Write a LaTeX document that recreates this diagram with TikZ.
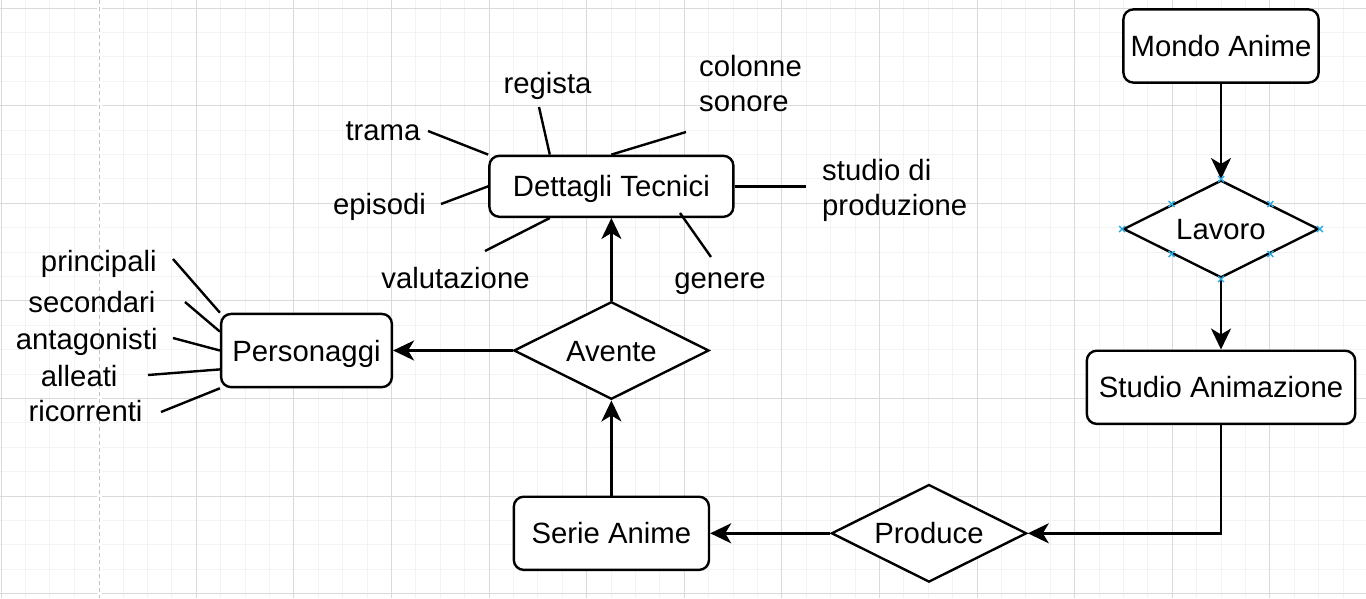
\documentclass[tikz,border=0pt]{standalone}
\usepackage{fontspec}
\setmainfont{Liberation Sans}
\usetikzlibrary{shapes.geometric,arrows.meta,calc}
\definecolor{gridminor}{RGB}{243,243,243}
\definecolor{gridmajor}{RGB}{218,218,218}
\definecolor{pagebreak}{RGB}{195,195,195}
\definecolor{hoverblue}{RGB}{41,171,226}
\begin{document}
\begin{tikzpicture}[x=1pt,y=-1pt,
  every node/.style={font=\fontsize{29.3}{35.2}\selectfont, inner sep=0pt},
  ent/.style={draw=black, line width=2.4pt, fill=white, rounded corners=10pt,
    text height=21pt, text depth=0pt, minimum width=#1, minimum height=73.2pt},
  rel/.style={diamond, aspect=2, draw=black, line width=2.4pt, fill=white,
    minimum width=195.2pt, minimum height=97.6pt, text height=21pt, text depth=0pt},
  conn/.style={line width=2.4pt, -{Stealth[length=21pt,width=20pt,inset=6pt]}},
  attrline/.style={line width=2.4pt},
  lab/.style={anchor=base},
  mlab/.style={anchor=north west, align=left},
  hv/.style={hoverblue, line width=1.4pt}
]
\useasboundingbox (0,0) rectangle (1366,598);
\fill[white] (0,0) rectangle (1366,598);
% grid
\foreach \i in {0,...,55} {\draw[gridminor, line width=1pt] ({1+24.4*\i},0) -- ({1+24.4*\i},598);}
\foreach \j in {0,...,24} {\draw[gridminor, line width=1pt] (0,{8+24.4*\j}) -- (1366,{8+24.4*\j});}
\foreach \i in {0,4,...,52} {\draw[gridmajor, line width=1pt] ({1+24.4*\i},0) -- ({1+24.4*\i},598);}
\foreach \j in {0,4,...,24} {\draw[gridmajor, line width=1pt] (0,{8+24.4*\j}) -- (1366,{8+24.4*\j});}
\fill[white] (97,0) rectangle (102,598);
\draw[pagebreak, line width=1.2pt, dash pattern=on 4pt off 3pt] (99.5,0) -- (99.5,598);

% entities and relations
\node[ent=195.2pt] (mondo) at (1221,46) {Mondo Anime};
\node[rel] (lavoro) at (1221,229) {Lavoro};
\node[ent=268.4pt] (studio) at (1221,387.3) {Studio Animazione};
\node[rel] (produce) at (929,533.3) {Produce};
\node[ent=195.2pt] (serie) at (611.4,533.3) {Serie Anime};
\node[rel] (avente) at (611.4,350.5) {Avente};
\node[ent=244pt, minimum height=61pt] (det) at (611.4,186.3) {Dettagli Tecnici};
\node[ent=170.8pt] (pers) at (306.5,350.5) {Personaggi};

% connectors
\draw[conn] (mondo.south) -- (lavoro.north);
\draw[conn] (lavoro.south) -- (studio.north);
\draw[conn] (studio.south) |- (produce.east);
\draw[conn] (produce.west) -- (serie.east);
\draw[conn] (serie.north) -- (avente.south);
\draw[conn] (avente.north) -- (det.south);
\draw[conn] (avente.west) -- (pers.east);

% hover markers on Lavoro
\foreach \p in {north,south,east,west} {
  \draw[hv] ($(lavoro.\p)+(-3,-3)$) -- ($(lavoro.\p)+(3,3)$);
  \draw[hv] ($(lavoro.\p)+(-3,3)$) -- ($(lavoro.\p)+(3,-3)$);
}
\foreach \a/\b in {north/east,east/south,south/west,west/north} {
  \coordinate (m) at ($(lavoro.\a)!0.5!(lavoro.\b)$);
  \draw[hv] ($(m)+(-3,-3)$) -- ($(m)+(3,3)$);
  \draw[hv] ($(m)+(-3,3)$) -- ($(m)+(3,-3)$);
}

% attributes of Dettagli Tecnici
\node[lab] (trama) at (383,140) {trama};
\node[lab] (regista) at (547.5,93) {regista};
\node[mlab] (colonne) at (699,55) {colonne\\sonore};
\node[mlab] (studiop) at (822,159) {studio di\\produzione};
\node[lab] (episodi) at (379.5,214) {episodi};
\node[lab] (valut) at (455.5,288) {valutazione};
\node[lab] (genere) at (720,288) {genere};

\coordinate (e-trama) at (428,131);
\coordinate (e-regista) at (539,107);
\coordinate (e-colonne) at (686,132);
\coordinate (e-studiop) at (806,186.3);
\coordinate (e-episodi) at (441,204);
\coordinate (e-valut) at (485,251);
\coordinate (e-genere) at (711,257);
\coordinate (g-end) at (680,213);

\draw[attrline] (e-trama) -- (det.north west);
\draw[attrline] (e-regista) -- ($(det.north west)!0.25!(det.north east)$);
\draw[attrline] (e-colonne) -- (det.north);
\draw[attrline] (det.east) -- (e-studiop);
\draw[attrline] (e-episodi) -- (det.west);
\draw[attrline] (e-valut) -- ($(det.south west)!0.25!(det.south east)$);
\draw[attrline] (e-genere) -- (g-end);

% attributes of Personaggi
\node[lab] (princ) at (98.8,271.7) {principali};
\node[lab] (second) at (92,312.3) {secondari};
\node[lab] (antag) at (86.7,349) {antagonisti};
\node[lab] (alleati) at (79.2,386) {alleati};
\node[lab] (ricorr) at (85.5,421.7) {ricorrenti};

\coordinate (e-princ) at (173,259);
\coordinate (e-second) at (185,302);
\coordinate (e-antag) at (173,338);
\coordinate (e-alleati) at (148,375);
\coordinate (e-ricorr) at (161,412);

\draw[attrline] (e-princ) -- (pers.north west);
\draw[attrline] (e-second) -- ($(pers.north west)!0.25!(pers.south west)$);
\draw[attrline] (e-antag) -- (pers.west);
\draw[attrline] (e-alleati) -- ($(pers.north west)!0.75!(pers.south west)$);
\draw[attrline] (e-ricorr) -- (pers.south west);
\end{tikzpicture}
\end{document}
